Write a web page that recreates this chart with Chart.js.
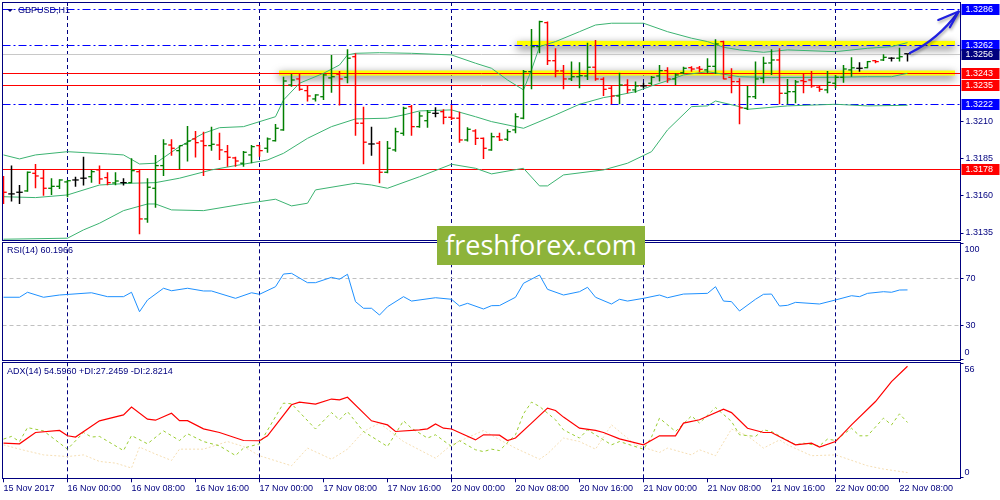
<!DOCTYPE html>
<html lang="en">
<head>
<meta charset="utf-8">
<title>GBPUSD H1</title>
<script src="https://cdn.jsdelivr.net/npm/chart.js@4.4.1/dist/chart.umd.min.js"></script>
<style>
  html, body { margin: 0; background: #fff; }
  #wrap { position: relative; width: 1000px; height: 500px; overflow: hidden; }
  #wrap canvas { position: absolute; left: 0; }
  #priceChart { top: 0; }
  #rsiChart { top: 241px; }
  #adxChart { top: 361px; }
  .label { position: absolute; left: 7px; font: 9px "Liberation Sans", Arial, sans-serif; color: #00007f; white-space: nowrap; line-height: 11px; z-index: 2; }
  #symbol { left: 18px; top: 5px; }
  #symbolArrow { position: absolute; left: 7px; top: 9px; width: 0; height: 0; border-left: 3px solid transparent; border-right: 3px solid transparent; border-top: 3px solid #00007f; z-index: 2; }
  #rsiLabel { top: 245px; }
  #adxLabel { top: 366px; }
  #logo { position: absolute; left: 437px; top: 226px; width: 208px; height: 39px; background: #8db33a; color: #fff; font: 27px "Open Sans", sans-serif; line-height: 38px; text-align: center; z-index: 3; }
</style>
</head>
<body>
<div id="wrap">
  <canvas id="priceChart" width="1000" height="241"></canvas>
  <canvas id="rsiChart" width="1000" height="120"></canvas>
  <canvas id="adxChart" width="1000" height="139"></canvas>
  <div id="symbolArrow"></div>
  <div class="label" id="symbol">GBPUSD,H1</div>
  <div class="label" id="rsiLabel">RSI(14) 60.1966</div>
  <div class="label" id="adxLabel">ADX(14) 54.5960 +DI:27.2459 -DI:2.8214</div>
  <div id="logo">freshforex.com</div>
</div>
<script>
// --- Data (H1 bars, 15 Nov 16:00 .. 22 Nov 09:00) ---
const tickLabels = ['15 Nov 2017', '16 Nov 00:00', '16 Nov 08:00', '16 Nov 16:00', '17 Nov 00:00',
  '17 Nov 08:00', '17 Nov 16:00', '20 Nov 00:00', '20 Nov 08:00', '20 Nov 16:00', '21 Nov 00:00',
  '21 Nov 08:00', '21 Nov 16:00', '22 Nov 00:00', '22 Nov 08:00']; // one every 8 bars
const daySeparators = [8, 32, 56, 80, 104];

const opens = [1.31708,1.31614,1.31625,1.31634,1.31753,1.3172,1.31652,1.31665,1.31695,1.31708,
  1.3172,1.3173,1.31776,1.31724,1.31688,1.3169,1.3169,1.31764,1.31445,1.31652,
  1.31805,1.31944,1.31906,1.31951,1.31985,1.31971,1.3194,1.31944,1.31899,1.31857,
  1.31821,1.31877,1.3194,1.31922,1.31973,1.32046,1.32349,1.3239,1.32311,1.32255,
  1.3227,1.32397,1.32422,1.32401,1.3254,1.32091,1.31951,1.31956,1.3176,1.31911,
  1.32023,1.32203,1.32068,1.32108,1.32158,1.32169,1.32131,1.32125,1.31978,1.32039,
  1.31989,1.31911,1.32,1.31983,1.32046,1.32125,1.32439,1.32608,1.3277,1.32513,
  1.32444,1.3239,1.32405,1.3241,1.32469,1.32388,1.32327,1.32275,1.32349,1.32316,
  1.32343,1.32361,1.3241,1.32446,1.3239,1.32432,1.32466,1.32464,1.32451,1.32475,
  1.32642,1.32401,1.32372,1.32192,1.3227,1.32394,1.32498,1.32518,1.32293,1.32304,
  1.32378,1.32383,1.32334,1.32316,1.32361,1.32401,1.32451,1.32462,1.32466,1.32513,
  1.32518,1.3253,1.3253,1.3256];
const highs = [1.31735,1.31805,1.31674,1.31765,1.31816,1.3178,1.3172,1.31713,1.31708,1.3173,
  1.31865,1.31776,1.31805,1.3176,1.3176,1.3172,1.31855,1.31776,1.3172,1.31877,
  1.31983,1.31983,1.3194,1.32073,1.32039,1.32034,1.32068,1.32027,1.31944,1.31865,
  1.31904,1.31944,1.31944,1.31994,1.32086,1.32405,1.32424,1.32424,1.32345,1.32287,
  1.32424,1.32552,1.32444,1.3259,1.32563,1.32203,1.32068,1.31971,1.31971,1.32061,
  1.32203,1.32214,1.32169,1.32181,1.32199,1.32185,1.32214,1.32169,1.32064,1.3205,
  1.31994,1.32027,1.32027,1.3205,1.32158,1.32451,1.32727,1.32783,1.32777,1.32597,
  1.32484,1.32507,1.32502,1.32635,1.32653,1.32401,1.32345,1.32432,1.32388,1.32372,
  1.32365,1.3241,1.32484,1.32469,1.32428,1.32473,1.32476,1.32478,1.3253,1.32658,
  1.32648,1.32462,1.32395,1.32343,1.32507,1.3254,1.3259,1.32597,1.3239,1.32383,
  1.32424,1.32444,1.32349,1.32444,1.32417,1.32484,1.32536,1.32502,1.32511,1.32518,
  1.32556,1.32536,1.32601,1.3256];
const lows = [1.31546,1.31562,1.31546,1.31629,1.31652,1.31602,1.31607,1.31647,1.31591,1.31663,
  1.3167,1.3169,1.31681,1.31672,1.31672,1.3167,1.31686,1.31342,1.3142,1.31521,
  1.31735,1.31872,1.3178,1.31832,1.31859,1.31735,1.31906,1.31843,1.31798,1.31798,
  1.31798,1.31821,1.31865,1.31892,1.31967,1.32041,1.32338,1.32311,1.32237,1.32237,
  1.32248,1.32297,1.3221,1.32361,1.32007,1.31814,1.31872,1.31686,1.31753,1.31899,
  1.32007,1.32007,1.32061,1.32061,1.32131,1.32084,1.32113,1.3196,1.31967,1.31944,
  1.3185,1.31906,1.31971,1.31971,1.32023,1.32118,1.3232,1.32563,1.32484,1.32401,
  1.3232,1.32376,1.32327,1.32383,1.32378,1.32275,1.32219,1.32219,1.32293,1.32297,
  1.32327,1.32349,1.32372,1.32365,1.32349,1.32424,1.32439,1.32435,1.32428,1.32424,
  1.32388,1.32293,1.32084,1.32181,1.32255,1.32361,1.32417,1.32219,1.32219,1.32226,
  1.32293,1.32331,1.32304,1.32293,1.32327,1.32365,1.32405,1.32439,1.32462,1.32496,
  1.32511,1.32507,1.32507,1.32507];
const closes = [1.31625,1.31614,1.31625,1.3176,1.31735,1.31652,1.31665,1.31708,1.31703,1.31708,
  1.3172,1.31764,1.31715,1.3169,1.31701,1.3169,1.31771,1.31445,1.31659,1.31805,
  1.31951,1.31922,1.3194,1.31971,1.3196,1.3194,1.31949,1.31911,1.31861,1.31836,
  1.31895,1.31933,1.31906,1.31985,1.32057,1.32376,1.32383,1.3232,1.32275,1.32282,
  1.32417,1.32405,1.3239,1.3253,1.32091,1.31963,1.31951,1.3176,1.31922,1.32034,
  1.32192,1.32068,1.3214,1.32165,1.32158,1.32131,1.32125,1.31978,1.3205,1.31989,
  1.31922,1.32,1.31978,1.32034,1.32135,1.32439,1.32608,1.32777,1.32513,1.32444,
  1.3239,1.32405,1.32412,1.32469,1.3239,1.3232,1.32275,1.32349,1.32316,1.32343,
  1.32343,1.32401,1.32446,1.3239,1.32417,1.32462,1.32457,1.32455,1.32475,1.32626,
  1.3239,1.32372,1.32195,1.3227,1.3239,1.32496,1.32518,1.32293,1.32304,1.3237,
  1.32372,1.32343,1.3232,1.32367,1.32401,1.32457,1.32465,1.32462,1.32507,1.32507,
  1.32536,1.3253,1.3254,1.3256];

// Bollinger Bands read at [bar, price]
const bbUpper = [[0,1.31877],[2,1.3185],[4,1.31877],[8,1.31899],[13,1.31884],[15,1.31877],[17,1.31816],
  [19,1.31821],[22,1.31933],[25,1.32023],[27,1.32061],[30,1.32068],[34,1.32135],[35,1.32248],[37,1.32361],
  [40,1.32428],[42,1.32484],[43,1.32552],[44,1.32563],[47,1.32567],[51,1.32563],[56,1.32552],[59,1.32496],
  [61,1.32462],[63,1.32383],[65,1.32316],[66,1.32451],[67,1.32608],[69,1.32642],[72,1.32709],[74,1.32754],
  [76,1.32766],[80,1.32766],[83,1.32709],[86,1.32665],[88,1.32642],[90,1.32604],[92,1.32586],[95,1.3257],
  [98,1.32586],[104,1.32574],[108,1.32597],[111,1.32608],[113,1.32635]];
const bbMiddle = [[0,1.31595],[4,1.31589],[8,1.31607],[12,1.31674],[16,1.31686],[19,1.3169],[22,1.3172],
  [26,1.31776],[29,1.31805],[33,1.31843],[35,1.31888],[38,1.31989],[41,1.32068],[44,1.3212],[48,1.32125],
  [50,1.32147],[52,1.32174],[56,1.32181],[59,1.32135],[61,1.32102],[65,1.32057],[69,1.32147],[72,1.32219],
  [75,1.32264],[77,1.32282],[79,1.32304],[81,1.32343],[83,1.32378],[85,1.32417],[88,1.32439],[92,1.32405],
  [96,1.32399],[104,1.32401],[108,1.32405],[111,1.32405],[113,1.32428]];
const bbLower = [[0,1.31308],[8,1.31315],[10,1.31371],[12,1.31416],[15,1.31501],[18,1.31546],[19,1.31546],
  [21,1.31506],[25,1.31501],[30,1.31546],[34,1.31578],[36,1.31533],[38,1.31551],[39,1.31641],[44,1.31686],
  [46,1.31674],[48,1.31652],[52,1.3173],[56,1.31814],[59,1.31787],[61,1.31749],[65,1.31787],[67,1.31668],
  [68,1.31668],[70,1.31742],[75,1.31776],[78,1.31821],[81,1.31899],[83,1.32046],[86,1.32203],[88,1.32208],
  [89,1.32241],[92,1.32203],[93,1.32185],[98,1.32208],[104,1.32219],[108,1.32208],[113,1.32212]];

// RSI(14) read at [bar, value]
const rsi = [[0,54.0],[2,54.0],[3,58.2],[5,54.0],[7,55.9],[11,57.8],[13,54.5],[15,54.5],[16,58.2],[17,41.8],
  [18,51.7],[20,61.6],[21,59.5],[23,61.6],[25,59.3],[26,59.3],[29,53.1],[31,57.8],[32,56.5],[34,62.9],
  [35,73.6],[36,74.2],[38,66.3],[39,66.3],[41,70.8],[42,69.2],[43,73.4],[44,50.3],[45,44.7],[46,44.7],
  [47,39.0],[48,46.0],[50,54.5],[51,50.8],[54,53.6],[56,52.3],[57,46.6],[58,48.9],[60,44.1],[61,46.9],
  [62,47.0],[64,54.0],[65,65.8],[67,72.8],[68,60.7],[70,55.9],[72,58.7],[73,62.4],[74,54.0],[76,48.3],
  [77,52.3],[78,50.8],[80,53.1],[82,55.9],[83,53.6],[85,56.7],[88,57.3],[89,62.9],[90,50.8],[91,50.3],
  [92,42.4],[94,52.3],[95,56.5],[96,56.7],[97,46.6],[98,47.2],[99,49.7],[102,48.3],[104,51.7],[106,55.3],
  [107,54.5],[108,57.3],[110,58.7],[111,58.2],[112,60.1],[113,60.2]];

// ADX(14), +DI, -DI read at [bar, value]
const adx = [[0,17.1],[2,16.8],[4,22.3],[7,23.3],[8,20.7],[9,20.1],[12,28.0],[15,30.9],[16,34.7],[18,28.8],
  [19,28.3],[21,31.7],[22,28.1],[23,28.1],[25,24.1],[27,22.3],[30,18.4],[32,18.3],[33,20.7],[36,35.8],
  [37,37.1],[39,36.1],[41,38.6],[42,38.2],[43,39.5],[46,28.0],[48,26.0],[49,22.8],[52,23.6],[53,24.1],
  [54,26.5],[55,24.4],[56,24.0],[59,18.7],[60,21.2],[62,21.0],[63,18.4],[64,19.6],[66,26.9],[68,34.2],
  [69,33.0],[70,29.8],[72,24.4],[74,23.3],[75,22.3],[77,19.2],[80,16.3],[82,20.7],[84,20.7],[85,26.9],
  [87,28.5],[90,33.7],[91,32.0],[93,24.4],[95,22.3],[96,22.3],[99,16.3],[101,17.1],[102,15.2],[104,17.9],
  [106,26.0],[109,37.4],[111,47.1],[113,54.6]];
const plusDi = [[0,19.1],[1,20.4],[2,17.9],[3,24.7],[5,23.1],[8,14.2],[10,22.3],[11,20.1],[12,20.4],[15,13.5],
  [16,20.8],[18,16.8],[20,23.1],[22,18.4],[23,21.7],[25,17.9],[27,15.8],[29,11.1],[30,14.7],[32,16.8],
  [35,36.6],[36,36.3],[39,24.0],[41,32.0],[42,28.5],[43,32.5],[45,22.8],[48,15.5],[50,28.0],[51,24.4],
  [53,19.6],[54,21.2],[56,15.5],[57,18.3],[59,13.9],[60,13.0],[61,14.2],[62,13.5],[64,21.2],[65,31.4],
  [66,37.1],[67,35.0],[69,28.5],[70,23.6],[72,19.6],[73,23.6],[76,16.3],[77,17.9],[80,14.2],[81,20.1],
  [82,29.3],[84,22.8],[86,30.4],[87,26.9],[89,34.5],[91,27.7],[92,21.2],[94,20.4],[95,23.6],[96,22.8],
  [99,16.3],[100,17.1],[102,15.8],[103,19.1],[104,18.4],[106,24.4],[107,20.7],[108,20.7],[110,29.3],
  [111,26.0],[112,31.4],[113,27.2]];
const minusDi = [[0,16.3],[2,14.2],[5,11.4],[8,10.6],[10,11.4],[12,8.2],[14,7.4],[16,5.0],[17,15.2],[19,11.8],
  [21,8.7],[22,14.2],[25,14.2],[28,17.9],[30,15.5],[32,11.0],[36,6.1],[38,14.7],[41,9.3],[43,14.2],
  [45,22.8],[47,26.9],[50,17.9],[54,9.8],[56,16.3],[60,23.3],[62,18.8],[64,14.7],[67,9.3],[68,11.9],
  [70,19.6],[72,17.9],[74,14.2],[76,26.0],[77,22.8],[79,16.3],[82,12.6],[83,14.7],[86,11.4],[87,13.9],
  [89,11.0],[91,24.0],[93,20.7],[95,14.7],[97,18.7],[98,16.3],[101,11.0],[104,11.4],[108,6.1],[110,4.5],
  [113,2.8]];

// price levels
const priceTicks = [1.3135, 1.3160, 1.3185, 1.3210];
const blueLevels = [1.3286, 1.3262, 1.3222];
const redLevels = [1.3243, 1.3235, 1.3178];
const bidPrice = 1.3256;
const zonePrices = [1.3243, 1.3263];
const zoneStartBars = [34.44, 64.19];
const zoneEndBar = 118.94;

// --- Look ---
const NAVY = '#00007f';
const FONT = { family: '"Liberation Sans", Arial, sans-serif', size: 9 };
const X_MIN = -0.125, X_MAX = 119.625;
const AXIS_W = 39.5;

const pts = arr => arr.map(p => ({ x: p[0], y: p[1] }));
const barColor = i => closes[i] > opens[i] ? '#007f00' : closes[i] < opens[i] ? '#ff0000' : '#000000';

function xAxis(showLabels) {
  return {
    type: 'linear', min: X_MIN, max: X_MAX, offset: false,
    afterBuildTicks: axis => { axis.ticks = tickLabels.map((_, k) => ({ value: k * 8 })); },
    afterFit: axis => {
      axis.height = showLabels ? 21.7 : 0;
      axis.paddingLeft = 0; axis.paddingRight = 0;
    },
    grid: {
      offset: false,
      color: ctx => (ctx.tick && daySeparators.includes(ctx.tick.value)) ? NAVY : 'rgba(0,0,0,0)',
      drawTicks: showLabels, tickLength: 4, tickColor: NAVY, tickWidth: 1, lineWidth: 1
    },
    border: { display: false, dash: [4, 3] },
    ticks: {
      display: showLabels, autoSkip: false, maxRotation: 0, align: 'start', padding: 1,
      color: NAVY, font: FONT, callback: (v, k) => tickLabels[k]
    }
  };
}

function yAxis(extra) {
  return Object.assign({
    position: 'right', beginAtZero: false,
    afterFit: axis => { axis.width = AXIS_W; axis.paddingTop = 0; axis.paddingBottom = 0; },
    border: { display: false },
    ticks: { color: NAVY, font: FONT, padding: 2 }
  }, extra);
}

// frame around a pane + the min/max captions MT4 puts inside the axis
const frame = {
  id: 'frame',
  afterDraw(chart, args, opts) {
    const { ctx, chartArea: a } = chart;
    const l = Math.floor(a.left) + 0.5, r = Math.floor(a.right) + 0.5;
    const t = Math.floor(a.top) + 0.5, b = Math.floor(a.bottom) + 0.5;
    ctx.save();
    ctx.strokeStyle = NAVY;
    ctx.lineWidth = 1;
    ctx.strokeRect(l, t, r - l, b - t);
    ctx.fillStyle = NAVY;
    ctx.font = '9px "Liberation Sans", Arial, sans-serif';
    ctx.textBaseline = 'middle';
    if (opts.top) {
      ctx.beginPath(); ctx.moveTo(r, t + 1); ctx.lineTo(r + 3, t + 1); ctx.stroke();
      ctx.fillText(opts.top, r + 4, t + 7);
    }
    if (opts.bottom) {
      ctx.beginPath(); ctx.moveTo(r, b - 1); ctx.lineTo(r + 3, b - 1); ctx.stroke();
      ctx.fillText(opts.bottom, r + 4, b - opts.bottomLift);
    }
    ctx.restore();
  }
};

const priceDecor = {
  id: 'priceDecor',
  beforeDatasetsDraw(chart) {
    const { ctx, chartArea: a, scales: { x, y } } = chart;
    ctx.save();
    ctx.beginPath();
    ctx.rect(a.left, a.top, a.right - a.left, a.bottom - a.top);
    ctx.clip();
    zonePrices.forEach((p, k) => {
      const py = y.getPixelForValue(p);
      const x0 = x.getPixelForValue(zoneStartBars[k]);
      const x1 = x.getPixelForValue(zoneEndBar);
      ctx.save();
      ctx.shadowColor = 'rgba(0,0,0,0.6)';
      ctx.shadowBlur = 8;
      ctx.shadowOffsetY = 3;
      ctx.fillStyle = '#ffff00';
      ctx.fillRect(x0, py - 2.5, x1 - x0, 5);
      ctx.restore();
    });
    const hline = (p, color, dash) => {
      const py = Math.round(y.getPixelForValue(p)) + 0.5;
      ctx.strokeStyle = color;
      ctx.setLineDash(dash);
      ctx.beginPath(); ctx.moveTo(a.left, py); ctx.lineTo(a.right, py); ctx.stroke();
    };
    ctx.lineWidth = 1;
    hline(bidPrice, '#c8c8c8', []);
    blueLevels.forEach(p => hline(p, '#0000ff', [8, 3, 2, 3]));
    redLevels.forEach(p => hline(p, '#ff0000', []));
    ctx.restore();
  },
  afterDatasetsDraw(chart) {
    const { ctx, chartArea: a, scales: { x, y } } = chart;
    ctx.save();
    ctx.beginPath();
    ctx.rect(a.left, a.top, a.right - a.left, a.bottom - a.top);
    ctx.clip();
    // open / close ticks of the bars
    opens.forEach((o, i) => {
      const px = x.getPixelForValue(i);
      ctx.fillStyle = barColor(i);
      ctx.fillRect(px - 3.25, y.getPixelForValue(o) - 0.65, 3.25, 1.3);
      ctx.fillRect(px, y.getPixelForValue(closes[i]) - 0.65, 3.25, 1.3);
    });
    ctx.restore();

    // hand drawn forecast arrow
    const P = (bar, price) => [x.getPixelForValue(bar), y.getPixelForValue(price)];
    const s = P(113.3, 1.32565), c = P(116.8, 1.32655), e = P(119.4, 1.32845);
    const b1 = P(116.85, 1.32788), b2 = P(118.3, 1.32739);
    ctx.save();
    ctx.strokeStyle = '#2020e0';
    ctx.lineWidth = 2.2;
    ctx.lineCap = 'round';
    ctx.lineJoin = 'round';
    ctx.shadowColor = 'rgba(0,0,0,0.35)';
    ctx.shadowBlur = 3;
    ctx.shadowOffsetX = 1;
    ctx.shadowOffsetY = 2;
    ctx.beginPath();
    ctx.moveTo(s[0], s[1]);
    ctx.quadraticCurveTo(c[0], c[1], e[0], e[1]);
    ctx.stroke();
    ctx.beginPath();
    ctx.moveTo(b1[0], b1[1]); ctx.lineTo(e[0], e[1]); ctx.lineTo(b2[0], b2[1]);
    ctx.stroke();
    ctx.restore();
  },
  afterDraw(chart) {
    const { ctx, chartArea: a, scales: { y } } = chart;
    const boxes = blueLevels.map(p => [p, '#0000ff'])
      .concat(redLevels.map(p => [p, '#ff0000']), [[bidPrice, '#00007f']]);
    ctx.save();
    ctx.font = '9px "Liberation Sans", Arial, sans-serif';
    ctx.textBaseline = 'middle';
    boxes.forEach(([p, color]) => {
      const py = Math.round(y.getPixelForValue(p));
      ctx.fillStyle = color;
      ctx.fillRect(a.right + 1, py - 5, 38, 11);
      ctx.fillStyle = '#ffffff';
      ctx.fillText(p.toFixed(4), a.right + 5, py + 0.5);
    });
    ctx.restore();
  }
};

const common = {
  responsive: false,
  animation: false,
  events: [],
  elements: { point: { radius: 0 }, line: { tension: 0 } }
};

// --- Price pane ---
new Chart(document.getElementById('priceChart'), {
  type: 'line',
  data: {
    datasets: [
      {
        type: 'bar',
        data: lows.map((l, i) => ({ x: i, y: [l, highs[i]] })),
        backgroundColor: ctx => barColor(ctx.dataIndex),
        barThickness: 1.5,
        grouped: false,
        borderWidth: 0,
        inflateAmount: 0,
        order: 0
      },
      { data: pts(bbUpper), borderColor: '#3cb371', borderWidth: 1, order: 1 },
      { data: pts(bbMiddle), borderColor: '#3cb371', borderWidth: 1, order: 1 },
      { data: pts(bbLower), borderColor: '#3cb371', borderWidth: 1, order: 1 }
    ]
  },
  options: Object.assign({}, common, {
    layout: { padding: { left: 2.5, right: 0, top: 2, bottom: 1 } },
    plugins: { legend: { display: false }, tooltip: { enabled: false }, frame: {} },
    scales: {
      x: xAxis(false),
      y: yAxis({
        min: 1.313028, max: 1.329093,
        afterBuildTicks: axis => { axis.ticks = priceTicks.map(v => ({ value: v })); },
        grid: { drawOnChartArea: false, drawTicks: true, tickLength: 3, tickColor: NAVY },
        ticks: { color: NAVY, font: FONT, padding: 2, callback: v => v.toFixed(4) }
      })
    }
  }),
  plugins: [priceDecor, frame]
});

// --- RSI pane ---
new Chart(document.getElementById('rsiChart'), {
  type: 'line',
  data: { datasets: [{ data: pts(rsi), borderColor: '#1e90ff', borderWidth: 1 }] },
  options: Object.assign({}, common, {
    layout: { padding: { left: 2.5, right: 0, top: 1.3, bottom: 1 } },
    plugins: { legend: { display: false }, tooltip: { enabled: false },
      frame: { top: '100', bottom: '0', bottomLift: 7.5 } },
    scales: {
      x: xAxis(false),
      y: yAxis({
        min: 1.05, max: 100.38,
        afterBuildTicks: axis => { axis.ticks = [70, 30].map(v => ({ value: v })); },
        grid: { color: '#c0c0c0', drawTicks: true, tickLength: 3, tickColor: NAVY },
        border: { display: false, dash: [4, 3] }
      })
    }
  }),
  plugins: [frame]
});

// --- ADX pane ---
new Chart(document.getElementById('adxChart'), {
  type: 'line',
  data: {
    datasets: [
      { data: pts(adx), borderColor: '#ff0000', borderWidth: 1.2 },
      { data: pts(plusDi), borderColor: '#9acd32', borderWidth: 1, borderDash: [3, 3] },
      { data: pts(minusDi), borderColor: '#f5deb3', borderWidth: 1, borderDash: [2, 2] }
    ]
  },
  options: Object.assign({}, common, {
    layout: { padding: { left: 2.5, right: 0, top: 1.3, bottom: 0 } },
    plugins: { legend: { display: false }, tooltip: { enabled: false },
      frame: { top: '56', bottom: '0', bottomLift: 5.8 } },
    scales: {
      x: xAxis(true),
      y: yAxis({
        min: 0, max: 56.5,
        grid: { display: false },
        ticks: { display: false }
      })
    }
  }),
  plugins: [frame]
});
</script>
</body>
</html>
